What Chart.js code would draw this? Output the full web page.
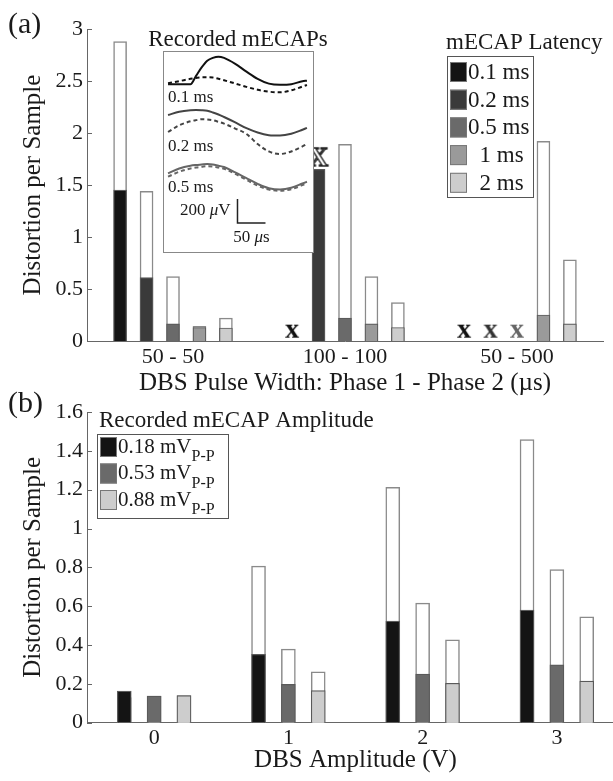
<!DOCTYPE html>
<html><head><meta charset="utf-8">
<script src="https://cdn.jsdelivr.net/npm/chart.js@4.4.1/dist/chart.umd.min.js"></script>
<style>
html,body{margin:0;padding:0;background:#fff;overflow:hidden;width:613px;height:781px;}
#wrap{position:relative;width:613px;height:781px;overflow:hidden;background:#fff;}
canvas{position:absolute;}
</style></head><body>
<div id="wrap">
<canvas id="cA" width="614" height="400" style="left:0;top:0;width:614px;height:400px"></canvas>
<canvas id="cB" width="624" height="401" style="left:0;top:380px;width:624px;height:401px"></canvas>
<canvas id="cI" width="151" height="202" style="left:163px;top:51px;width:151px;height:202px"></canvas>
</div>
<script>
// ---------------- DATA: panel (a) ----------------
const pulseWidths = ['50 - 50', '100 - 100', '50 - 500'];
const latencyLabels = ['0.1 ms', '0.2 ms', '0.5 ms', '  1 ms', '  2 ms'];
// filled (lower) part of each bar
const lat01Filled = [1.45, null, null];
const lat02Filled = [0.61, 1.65, null];
const lat05Filled = [0.165, 0.22, null];
const lat1Filled  = [0.13, 0.165, 0.25];
const lat2Filled  = [0.125, 0.13, 0.165];
// full (outlined) height of each bar
const lat01Total = [2.88, null, null];
const lat02Total = [1.44, null, null];
const lat05Total = [0.62, 1.89, null];
const lat1Total  = [0.14, 0.62, 1.92];
const lat2Total  = [0.22, 0.37, 0.78];
// 'x' markers
const lat01Marker = [null, 0.09, 0.09];
const lat02Marker = [null, null, 0.09];
const lat05Marker = [null, null, 0.09];
const lat02Hollow = [null, 1.77, null];
const yTicksA = [0, 0.5, 1, 1.5, 2, 2.5, 3];

// ---------------- DATA: panel (b) ----------------
const dbsAmplitudes = ['0', '1', '2', '3'];
const ampLabels = ['0.18 mV', '0.53 mV', '0.88 mV'];
const ampSub = 'P-P';
const amp018Filled = [0.163, 0.352, 0.523, 0.58];
const amp053Filled = [0.137, 0.197, 0.25, 0.298];
const amp088Filled = [0.14, 0.165, 0.203, 0.214];
const amp018Total = [0.13, 0.806, 1.212, 1.458];
const amp053Total = [0.137, 0.379, 0.616, 0.789];
const amp088Total = [0.14, 0.262, 0.427, 0.545];
const yTicksB = [0, 0.2, 0.4, 0.6, 0.8, 1, 1.2, 1.4, 1.6];

// ---------------- DATA: inset (recorded mECAPs) ----------------
const insetTimeUs = [0, 20, 40, 50, 60, 70, 80, 90, 100, 120, 140, 160, 180, 200, 220, 240, 248];
const trace01Solid  = [0, 0, 0, 70, 140, 195, 220, 230, 220, 170, 105, 45, 5, -5, 0, 25, 30];
const trace01Dashed = [8, 26, 45, 53, 58, 58, 56, 46, 33, 6, -22, -46, -62, -67, -51, -19, -6];
const trace02Solid  = [0, 26, 39, 42, 40, 35, 21, 4, -17, -62, -110, -146, -168, -172, -157, -123, -108];
const trace02Dashed = [-142, -86, -53, -43, -36, -38, -44, -57, -72, -113, -158, -242, -304, -325, -304, -262, -242];
const trace05Solid  = [0, 40, 63, 69, 73, 77, 74, 63, 53, 8, -41, -88, -124, -135, -121, -85, -70];
const trace05Dashed = [-28, 13, 40, 49, 54, 59, 57, 48, 38, -5, -54, -103, -136, -145, -133, -98, -83];
const traceLabels = ['0.1 ms', '0.2 ms', '0.5 ms'];
const traceOffsetsUv = [1406, 1150, 664];
const scaleBarUs = 50, scaleBarUv = 200;

// ---------------- STYLE ----------------
const serif = '"Liberation Serif", "Times New Roman", serif';
const textColor = '#1a1a1a';
const axisColor = '#666';
const latColors = ['#141414', '#3a3a3a', '#6a6a6a', '#9a9a9a', '#cdcdcd'];
const ampColors = ['#141414', '#6a6a6a', '#cdcdcd'];
const traceColors = ['#111111', '#444444', '#666666'];

const fmt = v => String(+(+v).toFixed(2));

function glyph(ch, color, size, hollow) {
  const c = document.createElement('canvas');
  c.width = 30; c.height = 30;
  const g = c.getContext('2d');
  g.font = 'bold ' + size + 'px ' + serif;
  g.textAlign = 'center';
  g.textBaseline = 'alphabetic';
  const base = hollow ? 15 + size * 0.33 : 15 + size * 0.23;
  if (hollow) {
    g.fillStyle = '#fff'; g.fillText(ch, 15, base);
    g.lineWidth = 1.4; g.strokeStyle = color; g.strokeText(ch, 15, base);
  } else {
    g.fillStyle = color; g.fillText(ch, 15, base);
  }
  return c;
}

function barSets(cats, labels, filled, totals, colors, step, thick, first) {
  const n = labels.length, sets = [];
  labels.forEach((lab, s) => {
    const off = (s - (n - 1) / 2) * step;
    sets.push({
      type: 'bar', label: lab, legendItem: true, order: 2,
      data: cats.map((c, i) => ({x: first + i + off, y: filled[s][i]})),
      backgroundColor: colors[s], borderColor: '#5a5a5a', borderWidth: 1.2,
      barThickness: thick, grouped: false
    });
    sets.push({
      type: 'bar', label: lab + ' total', order: 3,
      data: cats.map((c, i) => ({x: first + i + off, y: totals[s][i]})),
      backgroundColor: '#ffffff', borderColor: '#8a8a8a', borderWidth: 1.5,
      barThickness: thick, grouped: false
    });
  });
  return sets;
}

const inwardTicks = {
  id: 'inwardTicks',
  afterDraw(chart) {
    const {ctx, chartArea, scales} = chart;
    const y = scales.y;
    ctx.save();
    ctx.strokeStyle = axisColor; ctx.lineWidth = 1;
    y.ticks.forEach(t => {
      const py = Math.round(y.getPixelForValue(t.value)) + 0.5;
      ctx.beginPath(); ctx.moveTo(chartArea.left, py); ctx.lineTo(chartArea.left + 5, py); ctx.stroke();
    });
    ctx.restore();
  }
};

const boxLegend = {
  id: 'boxLegend',
  afterDraw(chart, args, o) {
    const ctx = chart.ctx;
    ctx.save();
    ctx.textBaseline = 'middle'; ctx.textAlign = 'left';
    ctx.fillStyle = textColor;
    (o.texts || []).forEach(t => {
      ctx.font = t.font;
      ctx.textAlign = t.align || 'left';
      ctx.fillText(t.text, t.x, t.y);
    });
    ctx.textAlign = 'left';
    ctx.fillStyle = '#fff';
    ctx.fillRect(o.x, o.y, o.w, o.h);
    ctx.strokeStyle = '#555'; ctx.lineWidth = 1;
    ctx.strokeRect(o.x + 0.5, o.y + 0.5, o.w, o.h);
    const items = chart.data.datasets.filter(d => d.legendItem);
    items.forEach((d, i) => {
      const sy = o.y + o.pad + i * o.row;
      const sx = o.x + o.sx;
      ctx.fillStyle = d.backgroundColor;
      ctx.fillRect(sx, sy, o.sw, o.sh);
      ctx.strokeStyle = '#777';
      ctx.strokeRect(sx + 0.5, sy + 0.5, o.sw - 1, o.sh - 1);
      ctx.fillStyle = textColor;
      ctx.font = o.fontSize + 'px ' + serif;
      const tx = sx + o.sw + 1, ty = sy + o.sh / 2 + o.dy;
      ctx.fillText(d.label, tx, ty);
      if (o.sub) {
        const w = ctx.measureText(d.label).width;
        ctx.font = o.subSize + 'px ' + serif;
        ctx.fillText(o.sub, tx + w, ty + o.subDy);
      }
    });
    ctx.restore();
  }
};

function axisCommon(extra) {
  return Object.assign({
    grid: {display: false, drawTicks: false},
    border: {display: true, color: axisColor, width: 1},
  }, extra);
}

// ---------------- CHART (a) ----------------
const xMarkerBlack = glyph('x', '#111', 28, false);
const xMarkerDark = glyph('x', '#333', 28, false);
const xMarkerGray = glyph('x', '#666', 28, false);
const xMarkerHollow = glyph('X', '#222', 27, true);
const stepA = 0.769 / 5;

const setsA = barSets(pulseWidths, latencyLabels,
  [lat01Filled, lat02Filled, lat05Filled, lat1Filled, lat2Filled],
  [lat01Total, lat02Total, lat05Total, lat1Total, lat2Total],
  latColors, stepA, 13, 1);
const markerDefs = [[lat01Marker, 0, xMarkerBlack], [lat02Marker, 1, xMarkerDark], [lat05Marker, 2, xMarkerGray], [lat02Hollow, 1, xMarkerHollow]];
markerDefs.forEach(([vals, s, img]) => {
  setsA.push({
    type: 'line', label: 'marker', showLine: false, order: 0,
    data: pulseWidths.map((c, i) => ({x: i + 1 + (s - 2) * stepA, y: vals[i]})),
    pointStyle: img, pointRadius: 10, pointHoverRadius: 10
  });
});

new Chart(document.getElementById('cA'), {
  type: 'bar',
  data: {datasets: setsA},
  options: {
    responsive: false, animation: false, events: [],
    layout: {padding: {top: 29, left: 0, right: 0, bottom: 0}},
    plugins: {
      legend: {display: false}, tooltip: {enabled: false},
      boxLegend: {
        x: 447, y: 56, w: 86, h: 141, pad: 6, row: 27.7, sx: 3, sw: 17, sh: 20, dy: 1,
        fontSize: 23,
        texts: [
          {text: '(a)', x: 8, y: 25, font: '30px ' + serif},
          {text: 'Recorded mECAPs', x: 238, y: 40, font: '23px ' + serif, align: 'center'},
          {text: 'mECAP Latency', x: 446, y: 43, font: '23px ' + serif}
        ]
      }
    },
    scales: {
      x: axisCommon({
        type: 'linear', min: 0.5, max: 3.5, offset: false,
        afterBuildTicks: s => { s.ticks = pulseWidths.map((c, i) => ({value: i + 1})); },
        ticks: {autoSkip: false, maxRotation: 0, padding: 3, color: textColor,
          font: {family: serif, size: 22}, callback: v => pulseWidths[v - 1]},
        title: {display: true, text: 'DBS Pulse Width: Phase 1 - Phase 2 (\u00b5s)', color: textColor,
          font: {family: serif, size: 25}, padding: {top: 0, bottom: 2}},
        afterFit: s => { s.height = 59; }
      }),
      y: axisCommon({
        min: 0, max: 3,
        afterBuildTicks: s => { s.ticks = yTicksA.map(v => ({value: v})); },
        ticks: {padding: 4, color: textColor, font: {family: serif, size: 22}, callback: fmt},
        title: {display: true, text: 'Distortion per Sample', color: textColor,
          font: {family: serif, size: 25}, padding: {top: 18, bottom: 0}},
        afterFit: s => { s.width = 87; }
      })
    }
  },
  plugins: [inwardTicks, boxLegend]
});

// ---------------- CHART (b) ----------------
const stepB = 0.667 / 3;
const setsB = barSets(dbsAmplitudes, ampLabels,
  [amp018Filled, amp053Filled, amp088Filled],
  [amp018Total, amp053Total, amp088Total],
  ampColors, stepB, 14, 0);

new Chart(document.getElementById('cB'), {
  type: 'bar',
  data: {datasets: setsB},
  options: {
    responsive: false, animation: false, events: [],
    layout: {padding: {top: 32, left: 0, right: 0, bottom: 0}},
    plugins: {
      legend: {display: false}, tooltip: {enabled: false},
      boxLegend: {
        x: 97, y: 54, w: 131, h: 84, pad: 3, row: 26.5, sx: 3, sw: 17, sh: 20, dy: 0,
        fontSize: 21, sub: ampSub, subSize: 16, subDy: 10,
        texts: [
          {text: '(b)', x: 8, y: 24, font: '30px ' + serif},
          {text: 'Recorded mECAP Amplitude', x: 99, y: 41, font: '23px ' + serif}
        ]
      }
    },
    scales: {
      x: axisCommon({
        type: 'linear', min: -0.5, max: 3.5, offset: false,
        afterBuildTicks: s => { s.ticks = dbsAmplitudes.map((c, i) => ({value: i})); },
        ticks: {autoSkip: false, maxRotation: 0, padding: 2, color: textColor,
          font: {family: serif, size: 22}, callback: v => dbsAmplitudes[v]},
        title: {display: true, text: 'DBS Amplitude (V)', color: textColor,
          font: {family: serif, size: 25}, padding: {top: 0, bottom: 6}},
        afterFit: s => { s.height = 58.3; }
      }),
      y: axisCommon({
        min: 0, max: 1.6,
        afterBuildTicks: s => { s.ticks = yTicksB.map(v => ({value: v})); },
        ticks: {padding: 4, color: textColor, font: {family: serif, size: 22}, callback: fmt},
        title: {display: true, text: 'Distortion per Sample', color: textColor,
          font: {family: serif, size: 25}, padding: {top: 18, bottom: 0}},
        afterFit: s => { s.width = 87; }
      })
    }
  },
  plugins: [inwardTicks, boxLegend]
});

// ---------------- INSET ----------------
const insetTraces = [[trace01Solid, trace01Dashed], [trace02Solid, trace02Dashed], [trace05Solid, trace05Dashed]];
const insetSets = [];
insetTraces.forEach((pair, k) => {
  pair.forEach((vals, j) => {
    insetSets.push({
      label: traceLabels[k] + (j ? ' dashed' : ''),
      data: insetTimeUs.map((t, i) => ({x: t, y: vals[i] + traceOffsetsUv[k]})),
      borderColor: traceColors[k], borderWidth: 2, borderDash: j ? [4, 3] : [],
      pointRadius: 0, cubicInterpolationMode: 'monotone', fill: false
    });
  });
});
const barT0 = 124, barV0 = 250;
insetSets.push({
  label: 'scale bar',
  data: [{x: barT0, y: barV0 + scaleBarUv}, {x: barT0, y: barV0}, {x: barT0 + scaleBarUs, y: barV0}],
  borderColor: '#222', borderWidth: 1.5, pointRadius: 0, tension: 0, fill: false
});

const insetDeco = {
  id: 'insetDeco',
  afterDraw(chart) {
    const ctx = chart.ctx, w = chart.width, h = chart.height;
    ctx.save();
    ctx.strokeStyle = '#888'; ctx.lineWidth = 1;
    ctx.strokeRect(0.5, 0.5, w - 1, h - 1);
    ctx.fillStyle = textColor; ctx.textBaseline = 'middle';
    ctx.font = '17px ' + serif; ctx.textAlign = 'left';
    ctx.fillText(traceLabels[0], 5, 47);
    ctx.fillText(traceLabels[1], 5, 96);
    ctx.fillText(traceLabels[2], 5, 137);
    const xs = chart.scales.x, ys = chart.scales.y;
    const bx = xs.getPixelForValue(barT0), by = ys.getPixelForValue(barV0);
    ctx.textAlign = 'right';
    const vTxt = scaleBarUv + ' ';
    ctx.font = '17px ' + serif;
    const wV = ctx.measureText('V').width;
    ctx.fillText('V', bx - 7, by - 12);
    ctx.font = 'italic 17px ' + serif;
    const wMu = ctx.measureText('\u03bc').width;
    ctx.fillText('\u03bc', bx - 7 - wV, by - 12);
    ctx.font = '17px ' + serif;
    ctx.fillText(vTxt, bx - 7 - wV - wMu, by - 12);
    ctx.textAlign = 'left';
    const cx = xs.getPixelForValue(barT0 + scaleBarUs / 2);
    const t1 = scaleBarUs + ' ';
    const w1 = ctx.measureText(t1).width;
    ctx.font = 'italic 17px ' + serif;
    const w2 = ctx.measureText('\u03bc').width;
    ctx.font = '17px ' + serif;
    const w3 = ctx.measureText('s').width;
    const sx = cx - (w1 + w2 + w3) / 2;
    ctx.fillText(t1, sx, by + 15);
    ctx.font = 'italic 17px ' + serif;
    ctx.fillText('\u03bc', sx + w1, by + 15);
    ctx.font = '17px ' + serif;
    ctx.fillText('s', sx + w1 + w2, by + 15);
    ctx.restore();
  },
  beforeDraw(chart) {
    const ctx = chart.ctx;
    ctx.save(); ctx.fillStyle = '#fff'; ctx.fillRect(0, 0, chart.width, chart.height); ctx.restore();
  }
};

new Chart(document.getElementById('cI'), {
  type: 'line',
  data: {datasets: insetSets},
  options: {
    responsive: false, animation: false, events: [],
    layout: {padding: 0},
    plugins: {legend: {display: false}, tooltip: {enabled: false}},
    scales: {
      x: {type: 'linear', display: false, min: -9, max: 260.6},
      y: {type: 'linear', display: false, min: 0, max: 1683}
    }
  },
  plugins: [insetDeco]
});
</script>
</body></html>
